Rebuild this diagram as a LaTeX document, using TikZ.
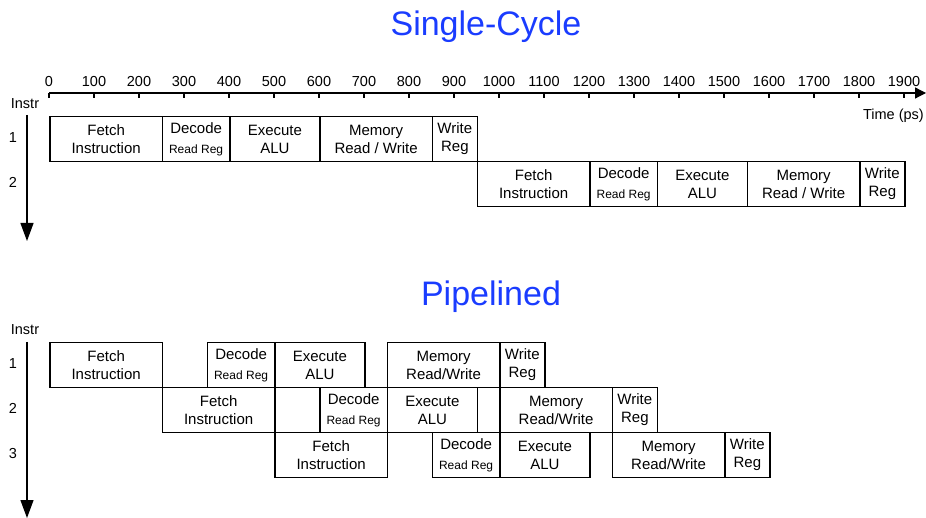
\documentclass[tikz,border=0pt]{standalone}
\usepackage{fontspec}
\setmainfont{Liberation Sans}
\usetikzlibrary{arrows.meta}
\definecolor{titleblue}{RGB}{26,60,255}

% time (ps) -> horizontal position
\newcommand{\tx}[1]{49+0.45*#1}
% stage box: name, start, end, top edge, text
\newcommand{\stg}[5]{%
  \node[stagebox, minimum width={0.45*(#3-#2)*1pt}, anchor=north west]
    (#1) at ({\tx{#2}}, #4) {#5};}
\newcommand{\decodetxt}{Decode\\[2pt]{\fontsize{12}{14}\selectfont Read Reg}}

\tikzset{
  stagebox/.style={draw, line width=1.7pt, minimum height=45pt, inner sep=0pt,
    align=center, font=\fontsize{15}{18}\selectfont},
  lbl/.style={inner sep=0pt, font=\fontsize{14.5}{17}\selectfont},
  ttl/.style={inner sep=0pt, text=titleblue, font=\fontsize{34}{40}\selectfont},
  axis/.style={line width=1.2pt},
  downarrow/.style={line width=1.2pt, -{Triangle[width=13pt,length=18pt]}}
}

\begin{document}
\begin{tikzpicture}[x=1pt, y=-1pt]
\useasboundingbox (0,0) rectangle (926,518);

% ---------------- Single-cycle ----------------
\node[ttl, anchor=base] (t1) at (486,36) {Single-Cycle};

\coordinate (ax0) at (49,93);
\coordinate (ax1) at (926,93);
\draw[axis, -{Triangle[width=11pt,length=11pt]}] (ax0) -- (ax1);
\foreach \t in {0,100,...,1900} {
  \draw[axis] ({\tx{\t}},93) -- ({\tx{\t}},98.5);
  \node[lbl, anchor=base] (tick\t) at ({\tx{\t}},86.5) {\t};
}
\node[lbl, anchor=base east] (time) at (924,120) {Time (ps)};

\node[lbl, anchor=base] (instrA) at (25,109) {Instr};
\coordinate (a0) at (27,115);
\coordinate (a1) at (27,241);
\draw[downarrow] (a0) -- (a1);
\node[lbl, anchor=base] (sa1) at (13,143) {1};
\node[lbl, anchor=base] (sa2) at (13,188) {2};

\stg{s1f}{0}{250}{115.7}{Fetch\\Instruction}
\stg{s1d}{250}{400}{115.7}{\decodetxt}
\stg{s1e}{400}{600}{115.7}{Execute\\ALU}
\stg{s1m}{600}{850}{115.7}{Memory\\Read / Write}
\stg{s1w}{850}{950}{115.7}{Write\\Reg}

\stg{s2f}{950}{1200}{160.7}{Fetch\\Instruction}
\stg{s2d}{1200}{1350}{160.7}{\decodetxt}
\stg{s2e}{1350}{1550}{160.7}{Execute\\ALU}
\stg{s2m}{1550}{1800}{160.7}{Memory\\Read / Write}
\stg{s2w}{1800}{1900}{160.7}{Write\\Reg}

% ---------------- Pipelined ----------------
\node[ttl, anchor=base] (t2) at (491,306) {Pipelined};

\node[lbl, anchor=base] (instrB) at (25,335) {Instr};
\coordinate (b0) at (27,342);
\coordinate (b1) at (27,518);
\draw[downarrow] (b0) -- (b1);
\node[lbl, anchor=base] (pb1) at (13,368) {1};
\node[lbl, anchor=base] (pb2) at (13,413) {2};
\node[lbl, anchor=base] (pb3) at (13,458) {3};

\stg{p1f}{0}{250}{341.7}{Fetch\\Instruction}
\stg{p1d}{350}{500}{341.7}{\decodetxt}
\stg{p1e}{500}{700}{341.7}{Execute\\ALU}
\stg{p1m}{750}{1000}{341.7}{Memory\\Read/Write}
\stg{p1w}{1000}{1100}{341.7}{Write\\Reg}

\stg{p2f}{250}{500}{386.7}{Fetch\\Instruction}
\stg{p2d}{600}{750}{386.7}{\decodetxt}
\stg{p2e}{750}{950}{386.7}{Execute\\ALU}
\stg{p2m}{1000}{1250}{386.7}{Memory\\Read/Write}
\stg{p2w}{1250}{1350}{386.7}{Write\\Reg}

\stg{p3f}{500}{750}{431.7}{Fetch\\Instruction}
\stg{p3d}{850}{1000}{431.7}{\decodetxt}
\stg{p3e}{1000}{1200}{431.7}{Execute\\ALU}
\stg{p3m}{1250}{1500}{431.7}{Memory\\Read/Write}
\stg{p3w}{1500}{1600}{431.7}{Write\\Reg}
\end{tikzpicture}
\end{document}
